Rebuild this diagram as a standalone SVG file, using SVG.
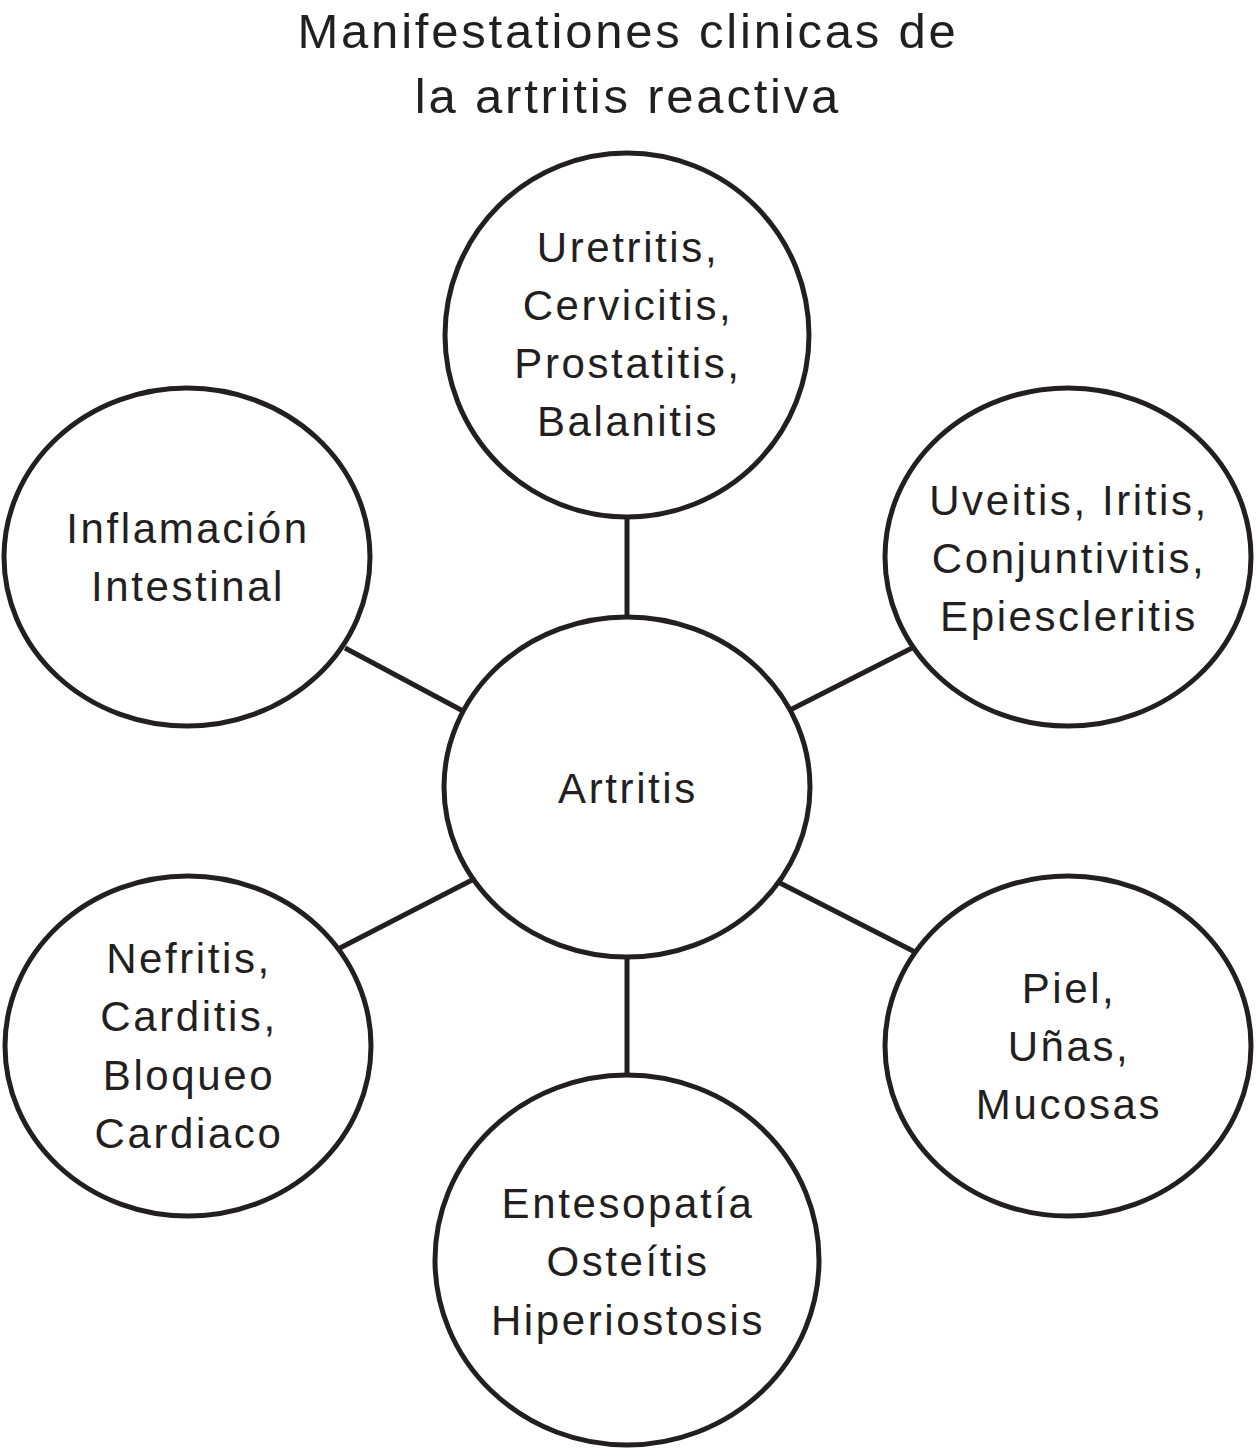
<svg xmlns="http://www.w3.org/2000/svg" width="1256" height="1448" viewBox="0 0 1256 1448">
<style>
.n{fill:#fff;stroke:#231f20;stroke-width:5}
.c{stroke:#231f20;stroke-width:5;fill:none}
text{font-family:"Liberation Sans",Arial,sans-serif;font-size:42px;fill:#231f20;text-anchor:middle;letter-spacing:2.6px}
.t{font-size:49px;letter-spacing:2.8px}
</style>
<rect width="1256" height="1448" fill="#fff"/>
<g id="title"><text class="t" x="628" y="48">Manifestationes clinicas de</text><text class="t" x="628" y="113">la artritis reactiva</text></g>
<g id="connectors">
<line class="c" x1="627" y1="517" x2="627" y2="618"/>
<line class="c" x1="790" y1="710" x2="912" y2="648"/>
<line class="c" x1="345" y1="648" x2="463" y2="711"/>
<line class="c" x1="340" y1="948" x2="472" y2="880"/>
<line class="c" x1="780" y1="883" x2="915" y2="952"/>
<line class="c" x1="627" y1="957" x2="627" y2="1075"/>
</g>
<g id="center"><ellipse class="n" cx="627" cy="787" rx="183" ry="170"/><text x="628" y="803">Artritis</text></g>
<g id="top"><ellipse class="n" cx="627" cy="335" rx="182" ry="182"/><text x="628" y="262">Uretritis,</text><text x="628" y="320">Cervicitis,</text><text x="628" y="378">Prostatitis,</text><text x="628" y="436">Balanitis</text></g>
<g id="topright"><ellipse class="n" cx="1068" cy="557" rx="183" ry="169"/><text x="1069" y="515">Uveitis, Iritis,</text><text x="1069" y="573">Conjuntivitis,</text><text x="1069" y="631">Epiescleritis</text></g>
<g id="topleft"><ellipse class="n" cx="187" cy="557" rx="183" ry="169"/><text x="188" y="543">Inflamación</text><text x="188" y="601">Intestinal</text></g>
<g id="bottomleft"><ellipse class="n" cx="188" cy="1046" rx="183" ry="170"/><text x="189" y="973">Nefritis,</text><text x="189" y="1031">Carditis,</text><text x="189" y="1090">Bloqueo</text><text x="189" y="1148">Cardiaco</text></g>
<g id="bottomright"><ellipse class="n" cx="1068" cy="1046" rx="183" ry="170"/><text x="1069" y="1003">Piel,</text><text x="1069" y="1061">Uñas,</text><text x="1069" y="1119">Mucosas</text></g>
<g id="bottom"><ellipse class="n" cx="627" cy="1260" rx="192" ry="185"/><text x="628" y="1218">Entesopatía</text><text x="628" y="1276">Osteítis</text><text x="628" y="1335">Hiperiostosis</text></g>
</svg>
